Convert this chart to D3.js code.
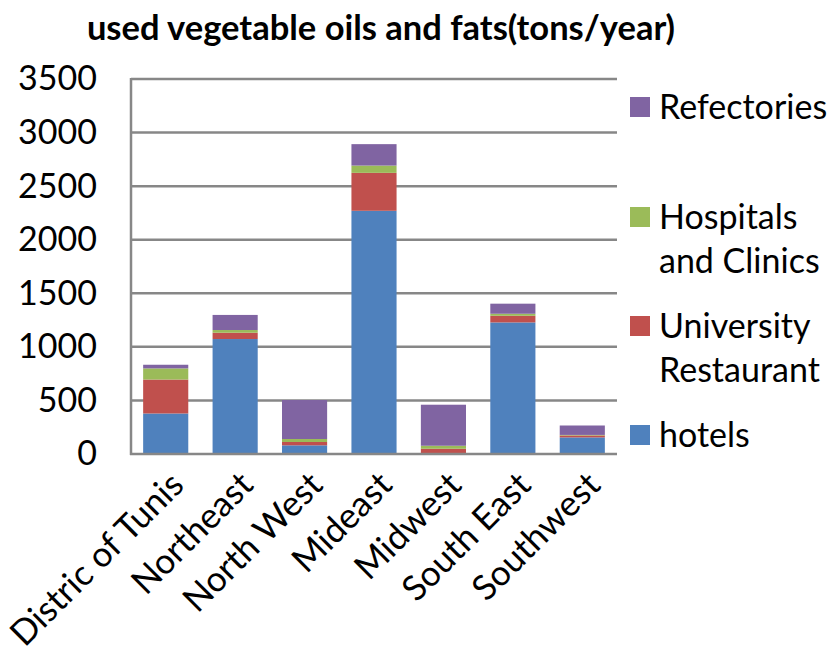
<!DOCTYPE html>
<html><head><meta charset="utf-8">
<script src="https://cdn.jsdelivr.net/npm/d3@7"></script>
<style>body{margin:0;background:#fff}svg{display:block}text{font-family:Lato,"Open Sans",sans-serif;fill:#000}</style>
</head><body>
<svg id="c" width="827" height="662"></svg>
<script>
const categories = ["Distric of Tunis","Northeast","North West","Mideast","Midwest","South East","Southwest"];
const hotels      = [378, 1073, 81, 2270, 9, 1228, 155];
const university  = [317, 59, 31, 354, 40, 62, 18];
const hospitals   = [104, 25, 28, 68, 28, 19, 5];
const refectories = [34, 141, 364, 200, 383, 94, 88];
const seriesNames = ["hotels","University Restaurant","Hospitals and Clinics","Refectories"];
const legendLabels = [["hotels"],["University","Restaurant"],["Hospitals","and Clinics"],["Refectories"]];
const colors = ["#4F81BD","#C0504D","#9BBB59","#8064A2"];
const yTicks = [0,500,1000,1500,2000,2500,3000,3500];
const title = "used vegetable oils and fats(tons/year)";

const svg = d3.select("#c");
const m = {left:131, right:617, top:79, bottom:454};
const x = d3.scaleBand().domain(categories).range([m.left, m.right]).paddingInner(0.35).paddingOuter(0.175);
const y = d3.scaleLinear().domain([0,3500]).range([m.bottom, m.top]);

const rows = categories.map((c,i)=>({cat:c, hotels:hotels[i], "University Restaurant":university[i], "Hospitals and Clinics":hospitals[i], Refectories:refectories[i]}));
const stack = d3.stack().keys(seriesNames)(rows);

// gridlines
svg.append("g").selectAll("line").data(yTicks.filter(d=>d>0)).join("line")
  .attr("x1", m.left).attr("x2", m.right).attr("y1", d=>y(d)).attr("y2", d=>y(d))
  .attr("stroke","#878787").attr("stroke-width",2.5);

// bars
svg.append("g").selectAll("g").data(stack).join("g")
  .attr("fill",(d,i)=>colors[i])
  .selectAll("rect").data(d=>d).join("rect")
  .attr("x", d=>x(d.data.cat)).attr("width", x.bandwidth())
  .attr("y", d=>y(d[1])).attr("height", d=>Math.max(0, y(d[0])-y(d[1])));

// axes lines
svg.append("line").attr("x1",m.left).attr("x2",m.left).attr("y1",m.top-1).attr("y2",m.bottom+1).attr("stroke","#878787").attr("stroke-width",2.5);
svg.append("line").attr("x1",m.left-1).attr("x2",m.right).attr("y1",m.bottom).attr("y2",m.bottom).attr("stroke","#878787").attr("stroke-width",2.5);

// y axis labels
const yAxis = d3.axisLeft(y).tickValues(yTicks).tickFormat(d3.format("d")).tickSize(0).tickPadding(34);
const ga = svg.append("g").attr("transform",`translate(${m.left},0)`).call(yAxis);
ga.select(".domain").remove();
ga.selectAll("text").attr("font-size",34).attr("font-family","Lato").attr("fill","#000");

// x labels
const xAxis = d3.axisBottom(x).tickSize(0).tickPadding(0);
const gx = svg.append("g").attr("transform",`translate(0,${m.bottom})`).call(xAxis);
gx.select(".domain").remove();
gx.selectAll("text").attr("font-size",35).attr("font-family","Lato").attr("fill","#000")
  .attr("text-anchor","end").attr("dy",null).attr("y",null)
  .attr("transform","translate(20,33) rotate(-45)");

// title
svg.append("text").attr("x",381).attr("y",40).attr("text-anchor","middle")
  .attr("font-size",34.5).attr("font-weight","bold").text(title);

// legend
const legY = [435, 326, 217, 107];
const lg = svg.append("g");
legendLabels.forEach((lines,i)=>{
  lg.append("rect").attr("x",630).attr("y",legY[i]-10).attr("width",20).attr("height",20).attr("fill",colors[i]);
  const t = lg.append("text").attr("x",659).attr("y",legY[i]+12).attr("font-size",34);
  lines.forEach((ln,j)=>t.append("tspan").attr("x",659).attr("dy", j===0?0:44).text(ln));
});
</script>
</body></html>
